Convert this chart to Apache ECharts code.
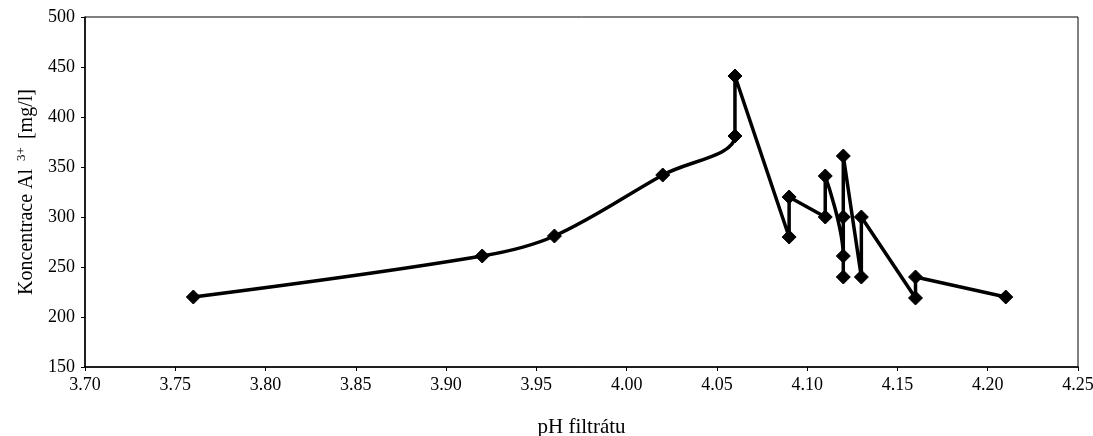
<!DOCTYPE html>
<html>
<head>
<meta charset="utf-8">
<script src="https://cdn.jsdelivr.net/npm/echarts@6/dist/echarts.min.js"></script>
<style>
html,body{margin:0;padding:0;background:#fff;}
#chart{width:1093px;height:436px;}
</style>
</head>
<body>
<div id="chart"></div>
<script>
// pH of filtrate (x) and Al3+ concentration in mg/l (y), in plotted order
const phValues = [3.76, 3.92, 3.96, 4.02, 4.06, 4.06, 4.09, 4.09, 4.11, 4.11, 4.12, 4.12, 4.12, 4.12, 4.13, 4.13, 4.16, 4.16, 4.21];
const alValues = [220, 261, 281, 342, 381, 441, 280, 320, 300, 341, 261, 240, 300, 361, 240, 300, 219, 240, 220];
const xTicks = [3.70, 3.75, 3.80, 3.85, 3.90, 3.95, 4.00, 4.05, 4.10, 4.15, 4.20, 4.25];
const yTicks = [150, 200, 250, 300, 350, 400, 450, 500];

const points = phValues.map((x, i) => [x, alValues[i]]);
const font = 'Liberation Serif';

const chart = echarts.init(document.getElementById('chart'), null, {renderer: 'canvas'});
chart.setOption({
  animation: false,
  backgroundColor: '#ffffff',
  grid: {
    left: 85, right: 15, top: 17, bottom: 69,
    containLabel: false, outerBoundsMode: 'none',
    show: true, borderColor: '#000', borderWidth: 1, backgroundColor: 'transparent'
  },
  xAxis: {
    type: 'value',
    min: xTicks[0], max: xTicks[xTicks.length - 1], interval: 0.05,
    name: 'pH filtrátu',
    nameLocation: 'middle', nameGap: 50,
    nameTextStyle: {fontFamily: font, fontSize: 21, color: '#000'},
    axisLine: {show: true, onZero: false, lineStyle: {color: '#000', width: 1.5}},
    axisTick: {show: true, inside: false, length: 4, lineStyle: {color: '#000'}},
    axisLabel: {fontFamily: font, fontSize: 18, color: '#000', margin: 9,
      formatter: v => v.toFixed(2)},
    splitLine: {show: false}
  },
  yAxis: {
    type: 'value',
    min: yTicks[0], max: yTicks[yTicks.length - 1], interval: 50,
    name: 'Koncentrace Al {sup|3+} [mg/l]',
    nameLocation: 'middle', nameGap: 43, nameRotate: 90,
    nameTextStyle: {fontFamily: font, fontSize: 20, color: '#000',
      rich: {sup: {fontFamily: font, fontSize: 13, color: '#000', padding: [0, 3, 12, 3]}}},
    axisLine: {show: true, onZero: false, lineStyle: {color: '#000', width: 1.5}},
    axisTick: {show: true, inside: false, length: 4, lineStyle: {color: '#000'}},
    axisLabel: {fontFamily: font, fontSize: 18, color: '#000', margin: 10},
    splitLine: {show: false}
  },
  series: [{
    type: 'line',
    data: points,
    smooth: 0.35,
    symbol: 'diamond',
    symbolSize: [14, 14],
    showSymbol: true,
    lineStyle: {color: '#000', width: 3.5},
    itemStyle: {color: '#000', borderColor: '#000'},
    z: 3
  }]
});
</script>
</body>
</html>
